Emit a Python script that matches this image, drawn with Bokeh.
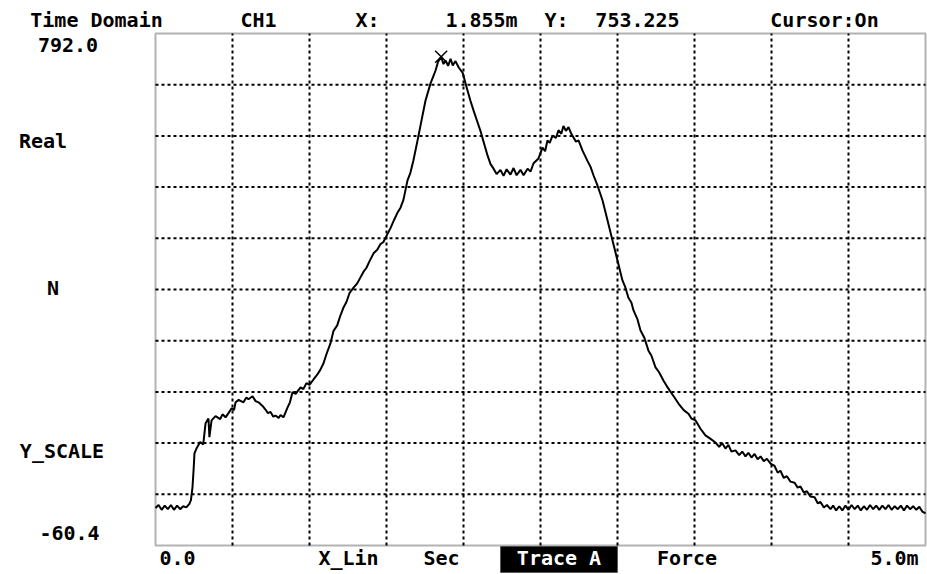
from bokeh.plotting import figure
from bokeh.models import Range1d, Label, BoxAnnotation, Grid
from bokeh.embed import file_html
from bokeh.resources import INLINE

# ---------------- data ----------------
time_ms = [
    0.00, 0.02, 0.04, 0.06, 0.08, 0.10, 0.12, 0.14, 0.16, 0.18, 0.20, 0.22,
    0.23, 0.24, 0.247, 0.253, 0.266, 0.29, 0.31, 0.325, 0.344, 0.35, 0.364, 0.39,
    0.42, 0.435, 0.455, 0.474, 0.494, 0.51, 0.52, 0.54, 0.571, 0.59, 0.604, 0.63,
    0.65, 0.669, 0.695, 0.714, 0.73, 0.747, 0.765, 0.779, 0.80, 0.812, 0.831, 0.857,
    0.873, 0.890, 0.91, 0.942, 0.96, 0.98, 1.00, 1.026, 1.05, 1.07, 1.091, 1.11,
    1.136, 1.156, 1.18, 1.20, 1.221, 1.24, 1.26, 1.286, 1.31, 1.331, 1.35, 1.37,
    1.39, 1.416, 1.44, 1.46, 1.48, 1.506, 1.526, 1.55, 1.57, 1.591, 1.61, 1.636,
    1.655, 1.675, 1.70, 1.721, 1.753, 1.786, 1.818, 1.835, 1.855, 1.87, 1.883, 1.90,
    1.916, 1.93, 1.948, 1.97, 1.994, 2.01, 2.026, 2.045, 2.065, 2.09, 2.110, 2.13,
    2.156, 2.175, 2.195, 2.215, 2.24, 2.26, 2.28, 2.305, 2.325, 2.345, 2.37, 2.39,
    2.416, 2.435, 2.455, 2.487, 2.513, 2.53, 2.545, 2.56, 2.578, 2.60, 2.617, 2.635,
    2.649, 2.665, 2.682, 2.70, 2.73, 2.747, 2.773, 2.805, 2.825, 2.844, 2.870, 2.903,
    2.935, 2.968, 3.000, 3.032, 3.05, 3.071, 3.09, 3.104, 3.13, 3.149, 3.175, 3.201,
    3.22, 3.247, 3.27, 3.299, 3.32, 3.351, 3.37, 3.396, 3.43, 3.461, 3.48, 3.506,
    3.539, 3.571, 3.60, 3.636, 3.66, 3.68, 3.701, 3.72, 3.74, 3.766, 3.79, 3.81,
    3.831, 3.85, 3.87, 3.89, 3.91, 3.929, 3.95, 3.97, 3.994, 4.02, 4.04, 4.058,
    4.08, 4.10, 4.123, 4.15, 4.17, 4.188, 4.21, 4.23, 4.253, 4.28, 4.30, 4.318,
    4.34, 4.36, 4.383, 4.40, 4.42, 4.44, 4.46, 4.48, 4.50, 4.52, 4.54, 4.56,
    4.58, 4.60, 4.62, 4.64, 4.66, 4.68, 4.70, 4.72, 4.74, 4.76, 4.78, 4.80,
    4.82, 4.84, 4.86, 4.88, 4.90, 4.92, 4.94, 4.96, 4.98, 5.00,
]
force_n = [
    2, 7, -1, 6, 0, 7, -1, 6, 0, 5, 3, 9,
    15, 36, 64, 93, 101, 112, 108, 143, 151, 120, 148, 155,
    150, 158, 153, 160, 168, 165, 178, 182, 178, 186, 183, 188,
    180, 178, 172, 166, 160, 162, 154, 156, 152, 157, 153, 169,
    178, 195, 192, 203, 200, 210, 207, 216, 224, 232, 243, 258,
    276, 297, 306, 322, 336, 345, 360, 369, 376, 386, 395, 402,
    413, 426, 432, 441, 445, 458, 468, 482, 493, 502, 515, 547,
    560, 581, 612, 639, 680, 709, 730, 745, 753, 741, 747, 738,
    750, 739, 746, 735, 727, 712, 697, 680, 664, 645, 630, 612,
    589, 575, 567, 558, 565, 555, 566, 557, 568, 556, 565, 556,
    567, 562, 576, 584, 602, 596, 614, 610, 622, 618, 631, 625,
    638, 630, 636, 625, 612, 614, 597, 580, 570, 556, 539, 514,
    481, 447, 414, 381, 370, 352, 344, 331, 316, 298, 285, 264,
    256, 236, 228, 214, 205, 193, 186, 176, 165, 159, 151, 148,
    134, 123, 118, 111, 104, 110, 101, 107, 96, 98, 90, 96,
    88, 94, 86, 92, 83, 88, 80, 84, 76, 72, 61, 64,
    52, 55, 46, 44, 36, 38, 28, 30, 21, 20, 10, 12,
    3, 7, 0, 6, -2, 5, -2, 6, -1, 7, 0, 6,
    -2, 5, -1, 7, 0, 6, -1, 6, 0, 7, -1, 5,
    0, 6, -2, 6, 0, 5, -1, 4, -4, -7,
]
cursor_x = [1.855]
cursor_y = [753.225]

x_min, x_max = 0.0, 5.0
y_min, y_max = -60.4, 792.0
n_div = 10

header_texts = ["Time Domain", "CH1", "X:", "1.855m", "Y:", "753.225", "Cursor:On"]
side_texts = ["792.0", "Real", "N", "Y_SCALE", "-60.4"]
footer_texts = ["0.0", "X_Lin", "Sec", "Trace A", "Force", "5.0m"]

# ---------------- layout (canvas pixels) ----------------
W, H = 927, 574
FL, FR, FT, FB = 155, 925, 33, 545
header_pos = [(96, 19.5), (258, 19.5), (367, 19.5), (481, 19.5), (556, 19.5), (637, 19.5), (824, 19.5)]
side_pos = [(67.5, 44), (42.5, 140), (52.5, 287), (61.5, 450), (69, 532)]
footer_pos = [(177, 557), (348, 557), (441, 557), (558.5, 557), (686.5, 557), (894, 557)]


def dx(px):
    return x_min + (px - FL) / (FR - FL) * (x_max - x_min)


def dy(py):
    return y_min + (FB - py) / (FB - FT) * (y_max - y_min)


FONT = "DejaVu Sans Mono"

p = figure(
    width=W, height=H,
    x_range=Range1d(dx(0), dx(W)), y_range=Range1d(dy(H), dy(0)),
    x_axis_location=None, y_axis_location=None,
    output_backend="svg", toolbar_location=None,
    min_border=0,
)
p.min_border_left = 0
p.min_border_right = 0
p.min_border_top = 0
p.min_border_bottom = 0
p.outline_line_color = None
p.background_fill_color = "white"
p.border_fill_color = "white"
p.center = [r for r in p.center if not isinstance(r, Grid)]

# dotted grid inside the plot area
xt = [x_min + i * (x_max - x_min) / n_div for i in range(1, n_div)]
yt = [y_min + i * (y_max - y_min) / n_div for i in range(1, n_div)]
p.segment(x0=xt, x1=xt, y0=[y_min] * len(xt), y1=[y_max] * len(xt),
          line_color="black", line_width=2, line_dash="3 3")
p.segment(x0=[x_min] * len(yt), x1=[x_max] * len(yt), y0=yt, y1=yt,
          line_color="black", line_width=2, line_dash="3 3")

# plot area outline
p.add_layout(BoxAnnotation(left=x_min, right=x_max, bottom=y_min, top=y_max,
                           fill_alpha=0, line_color="black", line_width=2))

p.line(time_ms, force_n, line_color="black", line_width=2)
p.scatter(cursor_x, cursor_y, marker="x", size=17, line_color="black", line_width=1.5)

# Trace A box
p.add_layout(BoxAnnotation(left=dx(500), right=dx(617), top=dy(546), bottom=dy(572),
                           fill_color="black", fill_alpha=1.0, line_color="black"))


def add_text(txt, pos, color="black"):
    p.add_layout(Label(x=dx(pos[0]), y=dy(pos[1]), text=txt, text_font=FONT,
                       text_font_style="bold", text_font_size="20px", text_color=color,
                       text_align="center", text_baseline="middle"))


for t, pos in zip(header_texts, header_pos):
    add_text(t, pos)
for t, pos in zip(side_texts, side_pos):
    add_text(t, pos)
for t, pos in zip(footer_texts, footer_pos):
    add_text(t, pos, "white" if t == "Trace A" else "black")

open("out.html", "w").write(file_html(p, INLINE))
